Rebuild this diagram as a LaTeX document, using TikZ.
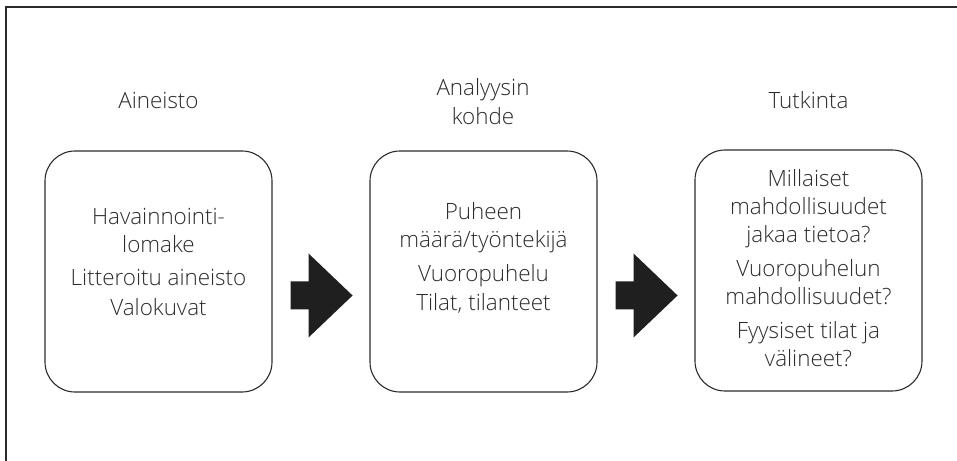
\documentclass[tikz,border=0pt]{standalone}
\usepackage{fontspec}
\setmainfont{Open Sans Light}
\definecolor{ink}{HTML}{2B2B2B}
\begin{document}
\begin{tikzpicture}[x=1bp,y=-1bp,
  every node/.style={text=ink},
  line/.style={font=\fontsize{22.5}{28}\selectfont, inner sep=0pt, anchor=base},
  stage/.style={draw=ink, line width=1.1bp, rounded corners=30bp, minimum width=227bp, minimum height=241bp, inner sep=0pt},
  blockarrow/.style={fill=black!88}]
\useasboundingbox (0,0) rectangle (957,461);
% outer frame (top and left edges)
\draw[ink, line width=1.1bp] (6,461) -- (6,7) -- (957,7);
% stage boxes
\node[stage] (b1) at (158.5,271.5) {};
\node[stage] (b2) at (483.5,271.5) {};
\node[stage] (b3) at (808.5,270.5) {};
% headings
\node[line] (h1)  at (158.5,109) {Aineisto};
\node[line] (h2a) at (483,96)    {Analyysin};
\node[line] (h2b) at (483,125)   {kohde};
\node[line] (h3)  at (808.5,109) {Tutkinta};
% first stage: material
\node[line] (t1a) at (158.5,225) {Havainnointi-};
\node[line] (t1b) at (158.5,253) {lomake};
\node[line] (t1c) at (158.5,286) {Litteroitu aineisto};
\node[line] (t1d) at (158.5,316) {Valokuvat};
% second stage: object of analysis
\node[line] (t2a) at (483.5,220) {Puheen};
\node[line] (t2b) at (483.5,248) {määrä/työntekijä};
\node[line] (t2c) at (483.5,282) {Vuoropuhelu};
\node[line] (t2d) at (483.5,311) {Tilat, tilanteet};
% third stage: research questions
\node[line] (t3a) at (808.5,187) {Millaiset};
\node[line] (t3b) at (808.5,215) {mahdollisuudet};
\node[line] (t3c) at (808.5,243) {jakaa tietoa?};
\node[line] (t3d) at (808.5,277) {Vuoropuhelun};
\node[line] (t3e) at (808.5,305) {mahdollisuudet?};
\node[line] (t3f) at (808.5,339) {Fyysiset tilat ja};
\node[line] (t3g) at (808.5,367) {välineet?};
% block arrows between the stages
\fill[blockarrow] ([xshift=18bp,yshift=-10bp]b1.east) coordinate (a1)
  -- ++(18,0) -- ++(0,-28) -- ++(44,42) -- ++(-44,42) -- ++(0,-28) -- ++(-18,0) -- cycle;
\fill[blockarrow] ([xshift=18bp,yshift=-10bp]b2.east) coordinate (a2)
  -- ++(18,0) -- ++(0,-28) -- ++(44,42) -- ++(-44,42) -- ++(0,-28) -- ++(-18,0) -- cycle;
\end{tikzpicture}
\end{document}
